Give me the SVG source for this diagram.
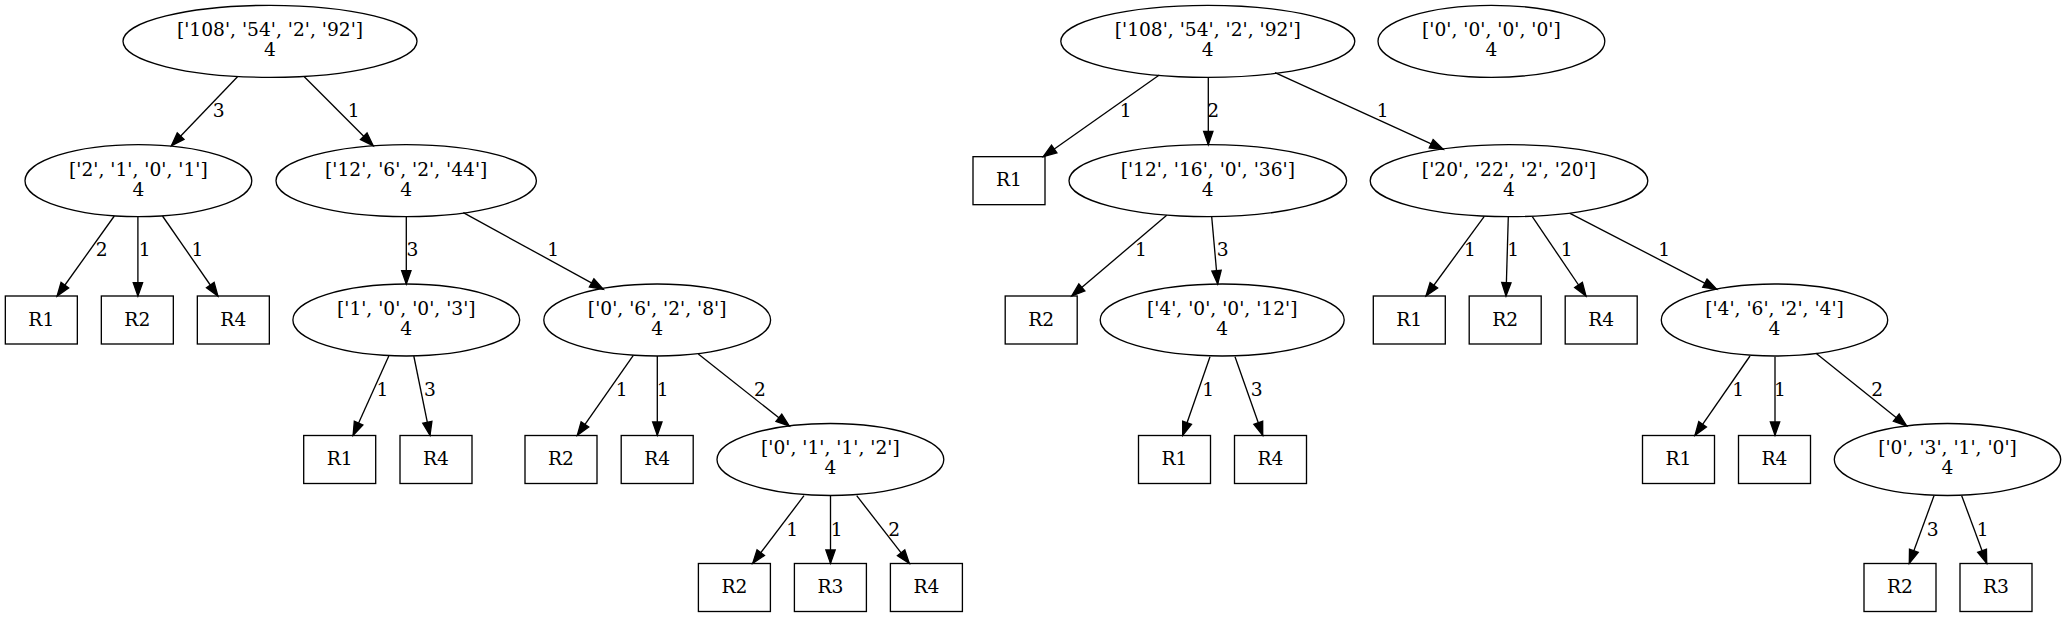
<svg xmlns="http://www.w3.org/2000/svg" width="2066" height="617" viewBox="0 0 2066 617">
<style>
.s{fill:none;stroke:#000;stroke-width:1.33}
text{font-family:"DejaVu Serif","Liberation Serif",serif;font-size:18.67px;fill:#000;text-anchor:middle}
.e path{fill:none;stroke:#000;stroke-width:1.33;marker-end:url(#a)}
</style>
<defs>
<marker id="a" markerUnits="userSpaceOnUse" markerWidth="16" markerHeight="12" refX="13.33" refY="4.67" orient="auto" overflow="visible">
<path d="M0,0 L13.33,4.67 L0,9.33 z" fill="#000" stroke="#000" stroke-width="1.33"/>
</marker>
</defs>
<rect width="2066" height="617" fill="#fff"/>

<g id="edges" class="e">
<path d="M237.5,76.7 L171.4,145.7"/><text x="218.6" y="116.8">3</text>
<path d="M304.3,76.7 L373.2,145.7"/><text x="353.6" y="116.8">1</text>
<path d="M114.3,216 L57.1,296"/><text x="101.8" y="256.3">2</text>
<path d="M137.9,216.7 L137.9,296"/><text x="144.6" y="256.3">1</text>
<path d="M162.5,216 L217.9,296"/><text x="197.5" y="256.3">1</text>
<path d="M406.3,216.7 L406.3,284"/><text x="412.5" y="256.3">3</text>
<path d="M463.3,212.7 L603.3,289.3"/><text x="553.3" y="256.3">1</text>
<path d="M388.8,356 L353.1,435.3"/><text x="382.5" y="396.1">1</text>
<path d="M413.8,356 L430,435.3"/><text x="430" y="396.1">3</text>
<path d="M633.3,355.3 L577.3,435.3"/><text x="621.7" y="396.1">1</text>
<path d="M657.3,356 L657.3,435.3"/><text x="662.7" y="396.1">1</text>
<path d="M698.3,354 L789.3,426"/><text x="760" y="396.1">2</text>
<path d="M804,495.7 L752.7,563.3"/><text x="792.3" y="535.8">1</text>
<path d="M830.5,496 L830.5,563.3"/><text x="836.7" y="535.8">1</text>
<path d="M856.7,495.7 L909.3,563.3"/><text x="894.3" y="535.8">2</text>

<path d="M1159.3,75 L1043.3,156.7"/><text x="1125.7" y="116.8">1</text>
<path d="M1208.3,77 L1208.3,144.7"/><text x="1213.3" y="116.8">2</text>
<path d="M1275,72.7 L1443.3,149.3"/><text x="1382.7" y="116.8">1</text>
<path d="M1166.7,215.3 L1071.7,296"/><text x="1141" y="256.3">1</text>
<path d="M1211.7,216.7 L1217.7,284"/><text x="1222.7" y="256.3">3</text>
<path d="M1484.3,216.3 L1426,296"/><text x="1470" y="256.3">1</text>
<path d="M1508.3,216.7 L1506,296"/><text x="1513.3" y="256.3">1</text>
<path d="M1532.3,216.7 L1586,296"/><text x="1566.7" y="256.3">1</text>
<path d="M1570,213.3 L1716.7,289.3"/><text x="1664.3" y="256.3">1</text>
<path d="M1210,356.7 L1182.7,435.3"/><text x="1208.3" y="395.5">1</text>
<path d="M1235,356.7 L1262.7,435.3"/><text x="1256.7" y="395.5">3</text>
<path d="M1750,356 L1695,435.3"/><text x="1738.3" y="396.1">1</text>
<path d="M1775,356.7 L1775,435.3"/><text x="1780" y="396.1">1</text>
<path d="M1816,353.3 L1906.7,426"/><text x="1877.3" y="396.1">2</text>
<path d="M1934,495.7 L1909.3,563.3"/><text x="1932.7" y="535.8">3</text>
<path d="M1961.7,495.7 L1986.7,563.3"/><text x="1982.7" y="535.8">1</text>
</g>

<g id="L0"><ellipse class="s" cx="270" cy="41.33" rx="147" ry="36"/><text x="270" y="36.3">['108', '54', '2', '92']</text><text x="270" y="56.3">4</text></g>
<g id="L1"><ellipse class="s" cx="138.4" cy="180.67" rx="113.4" ry="36"/><text x="138.4" y="175.6">['2', '1', '0', '1']</text><text x="138.4" y="195.6">4</text></g>
<g id="L2"><ellipse class="s" cx="406.2" cy="180.67" rx="130.2" ry="36"/><text x="406.2" y="175.6">['12', '6', '2', '44']</text><text x="406.2" y="195.6">4</text></g>
<g id="L3"><rect class="s" x="5.33" y="296" width="72" height="48"/><text x="41.33" y="325.6">R1</text></g>
<g id="L4"><rect class="s" x="101.33" y="296" width="72" height="48"/><text x="137.33" y="325.6">R2</text></g>
<g id="L5"><rect class="s" x="197.33" y="296" width="72" height="48"/><text x="233.33" y="325.6">R4</text></g>
<g id="L6"><ellipse class="s" cx="406.3" cy="320" rx="113.4" ry="36"/><text x="406.3" y="314.9">['1', '0', '0', '3']</text><text x="406.3" y="334.9">4</text></g>
<g id="L7"><ellipse class="s" cx="657.2" cy="320" rx="113.4" ry="36"/><text x="657.2" y="314.9">['0', '6', '2', '8']</text><text x="657.2" y="334.9">4</text></g>
<g id="L8"><rect class="s" x="303.7" y="435.5" width="72" height="48"/><text x="339.7" y="465.1">R1</text></g>
<g id="L9"><rect class="s" x="400" y="435.5" width="72" height="48"/><text x="436" y="465.1">R4</text></g>
<g id="L10"><rect class="s" x="525" y="435.5" width="72" height="48"/><text x="561" y="465.1">R2</text></g>
<g id="L11"><rect class="s" x="621.2" y="435.5" width="72" height="48"/><text x="657.2" y="465.1">R4</text></g>
<g id="L12"><ellipse class="s" cx="830.4" cy="459.5" rx="113.4" ry="36"/><text x="830.4" y="454.4">['0', '1', '1', '2']</text><text x="830.4" y="474.4">4</text></g>
<g id="L13"><rect class="s" x="698.4" y="563.5" width="72" height="48"/><text x="734.4" y="593.1">R2</text></g>
<g id="L14"><rect class="s" x="794.4" y="563.5" width="72" height="48"/><text x="830.4" y="593.1">R3</text></g>
<g id="L15"><rect class="s" x="890.4" y="563.5" width="72" height="48"/><text x="926.4" y="593.1">R4</text></g>

<g id="R0"><ellipse class="s" cx="1207.8" cy="41.33" rx="147" ry="36"/><text x="1207.8" y="36.3">['108', '54', '2', '92']</text><text x="1207.8" y="56.3">4</text></g>
<g id="R1n"><ellipse class="s" cx="1491.4" cy="41.33" rx="113.4" ry="36"/><text x="1491.4" y="36.3">['0', '0', '0', '0']</text><text x="1491.4" y="56.3">4</text></g>
<g id="R2n"><rect class="s" x="973" y="156.67" width="72" height="48"/><text x="1009" y="186.3">R1</text></g>
<g id="R3n"><ellipse class="s" cx="1207.8" cy="180.67" rx="138.8" ry="36"/><text x="1207.8" y="175.6">['12', '16', '0', '36']</text><text x="1207.8" y="195.6">4</text></g>
<g id="R4n"><ellipse class="s" cx="1509" cy="180.67" rx="138.8" ry="36"/><text x="1509" y="175.6">['20', '22', '2', '20']</text><text x="1509" y="195.6">4</text></g>
<g id="R5n"><rect class="s" x="1005.2" y="296" width="72" height="48"/><text x="1041.2" y="325.6">R2</text></g>
<g id="R6n"><ellipse class="s" cx="1222.2" cy="320" rx="122" ry="36"/><text x="1222.2" y="314.9">['4', '0', '0', '12']</text><text x="1222.2" y="334.9">4</text></g>
<g id="R7n"><rect class="s" x="1373.3" y="296" width="72" height="48"/><text x="1409.3" y="325.6">R1</text></g>
<g id="R8n"><rect class="s" x="1469.2" y="296" width="72" height="48"/><text x="1505.2" y="325.6">R2</text></g>
<g id="R9n"><rect class="s" x="1565.2" y="296" width="72" height="48"/><text x="1601.2" y="325.6">R4</text></g>
<g id="R10n"><ellipse class="s" cx="1774.5" cy="320" rx="113.2" ry="36"/><text x="1774.5" y="314.9">['4', '6', '2', '4']</text><text x="1774.5" y="334.9">4</text></g>
<g id="R11n"><rect class="s" x="1138.5" y="435.5" width="72" height="48"/><text x="1174.5" y="465.1">R1</text></g>
<g id="R12n"><rect class="s" x="1234.5" y="435.5" width="72" height="48"/><text x="1270.5" y="465.1">R4</text></g>
<g id="R13n"><rect class="s" x="1642.5" y="435.5" width="72" height="48"/><text x="1678.5" y="465.1">R1</text></g>
<g id="R14n"><rect class="s" x="1738.5" y="435.5" width="72" height="48"/><text x="1774.5" y="465.1">R4</text></g>
<g id="R15n"><ellipse class="s" cx="1947.5" cy="459.5" rx="113.2" ry="36"/><text x="1947.5" y="454.4">['0', '3', '1', '0']</text><text x="1947.5" y="474.4">4</text></g>
<g id="R16n"><rect class="s" x="1864" y="563.5" width="72" height="48"/><text x="1900" y="593.1">R2</text></g>
<g id="R17n"><rect class="s" x="1960" y="563.5" width="72" height="48"/><text x="1996" y="593.1">R3</text></g>
</svg>
